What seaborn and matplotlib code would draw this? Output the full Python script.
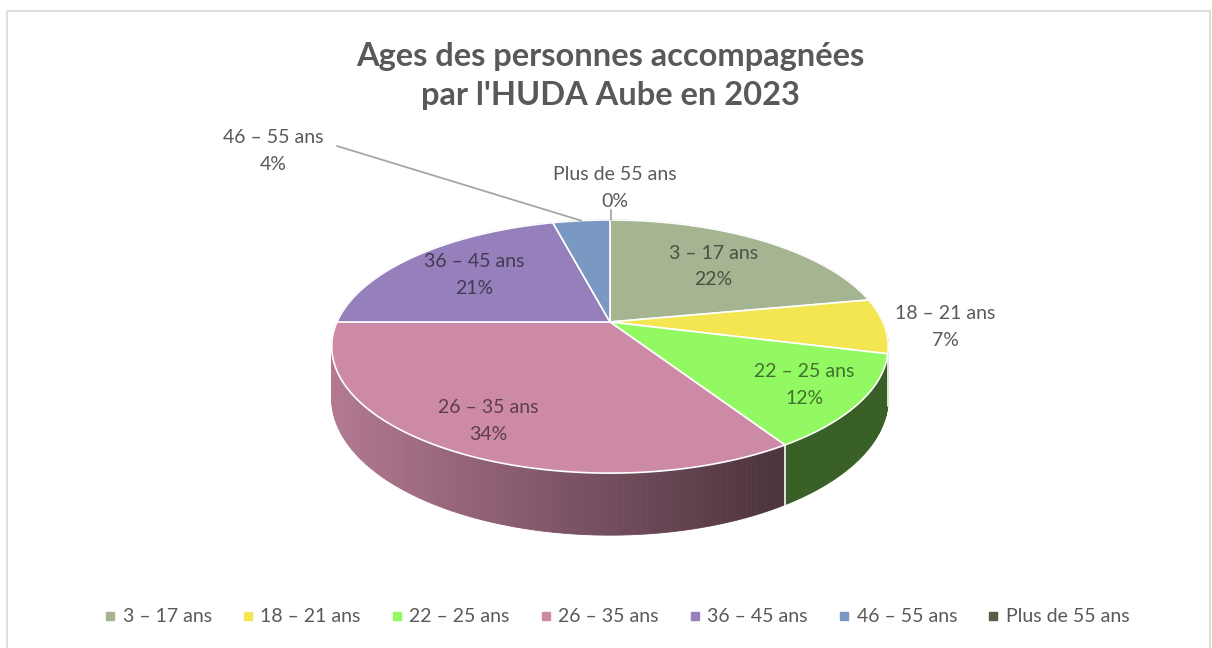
import numpy as np
import matplotlib
matplotlib.use("Agg")
import matplotlib.pyplot as plt
import seaborn as sns
from matplotlib.lines import Line2D
from matplotlib.patches import Rectangle

sns.set_style("white")
plt.rcParams['font.family'] = ['Lato', 'DejaVu Sans']

# data
categories = ['3 – 17 ans', '18 – 21 ans', '22 – 25 ans', '26 – 35 ans',
              '36 – 45 ans', '46 – 55 ans', 'Plus de 55 ans']
percent = [22, 7, 12, 34, 21, 4, 0]
slice_colors = ['#A5B592', '#F3E651', '#93F963', '#CC8AA6',
                '#9680BB', '#7A99C2', '#545F46']
title = "Ages des personnes accompagnées\npar l'HUDA Aube en 2023"

palette = sns.color_palette(slice_colors)

# layout of the "3d" pie (pixel space)
CX, CY = 610, 322
RX, RY = 273, 121.8
K = 0.194       # perspective
DROP = 50       # thickness
GREY = '#595959'


def proj(theta, r=1.0, drop=0.0):
    t = np.radians(theta)
    X = r * np.sin(t)
    Y = -r * np.cos(t)
    w = 1.0 / (1.0 - K * Y)
    return CX + RX * X * w, CY + RY * Y * w + drop * w


def shade(x):
    return np.clip(0.87 - 0.5 * (x - 338) / 442.0, 0.38, 0.9)


fig = plt.figure(figsize=(12.12, 6.48), dpi=100)
ax = fig.add_axes([0, 0, 1, 1])
ax.set_xlim(0, 1212)
ax.set_ylim(648, 0)
ax.axis('off')

# chart border
ax.add_patch(Rectangle((7, 11), 1203, 660, fill=False, edgecolor='#D9D9D9', lw=1.2))

total = float(sum(percent))
bounds = np.concatenate([[0], np.cumsum(percent)]) / total * 360.0

# side walls, small segments drawn back to front
segs = []
for i in range(len(percent)):
    a, b = bounds[i], bounds[i + 1]
    if b - a <= 0:
        continue
    n = max(2, int((b - a) / 1.0))
    th = np.linspace(a, b, n + 1)
    for j in range(n):
        t0, t1 = th[j], th[j + 1]
        depth = -np.cos(np.radians((t0 + t1) / 2))
        segs.append((depth, i, t0, t1))
segs.sort(key=lambda s: s[0])
for depth, i, t0, t1 in segs:
    x0, y0 = proj(t0)
    x1, y1 = proj(t1)
    x2, y2 = proj(t1, drop=DROP)
    x3, y3 = proj(t0, drop=DROP)
    f = shade((x0 + x1) / 2)
    c = tuple(np.array(palette[i]) * f)
    ax.fill([x0, x1, x2, x3], [y0, y1, y2, y3], color=c, lw=0.6, ec=c, zorder=1)

# white line between slices on the front wall
for t in bounds[1:-1]:
    if -np.cos(np.radians(t)) > 0.05:
        xa, ya = proj(t)
        xb, yb = proj(t, drop=DROP)
        ax.plot([xa, xb], [ya, yb], color='white', lw=1.2, zorder=2)

# top faces
for i in range(len(percent)):
    a, b = bounds[i], bounds[i + 1]
    if b - a <= 0:
        continue
    th = np.linspace(a, b, max(3, int(b - a) * 2))
    xs, ys = proj(th)
    ax.fill(np.concatenate([[CX], xs]), np.concatenate([[CY], ys]),
            color=palette[i], ec='white', lw=1.2, zorder=3)

# data labels
label_r = [0.65, 1.22, 0.8, 0.8, 0.68, None, None]
for i, (cat, p) in enumerate(zip(categories, percent)):
    mid = (bounds[i] + bounds[i + 1]) / 2
    txt = f"{cat}\n{p}%"
    if label_r[i] is not None:
        lx, ly = proj(mid, r=label_r[i])
        col = GREY if label_r[i] > 1 else tuple(np.array(palette[i]) * 0.45)
        ax.text(lx, ly, txt, ha='center', va='center', fontsize=14,
                color=col, linespacing=1.7, zorder=5)
    elif p > 0:
        ex, ey = proj(mid)
        ax.plot([337, ex], [146, ey], color='#A6A6A6', lw=1.3, zorder=4)
        ax.text(273, 151, txt, ha='center', va='center', fontsize=14,
                color=GREY, linespacing=1.7, zorder=5)
    else:
        ex, ey = proj(mid)
        ax.plot([ex + 1, ex + 1], [ey - 10, ey], color='#A6A6A6', lw=1.3, zorder=4)
        ax.text(ex + 5, ey - 32, txt, ha='center', va='center', fontsize=14,
                color=GREY, linespacing=1.7, zorder=5)

ax.text(610, 76, title, ha='center', va='center', fontsize=23.5, fontweight='bold',
        color=GREY, linespacing=1.4)

handles = [Line2D([], [], marker='s', ls='', markersize=6, color=c) for c in palette]
fig.legend(handles, categories, loc='center', bbox_to_anchor=(0.508, 1 - 617 / 648),
           ncol=7, frameon=False, fontsize=14, handletextpad=0.25,
           columnspacing=1.45, labelcolor=GREY, handlelength=0.8)

fig.savefig('out.png', dpi=100)
